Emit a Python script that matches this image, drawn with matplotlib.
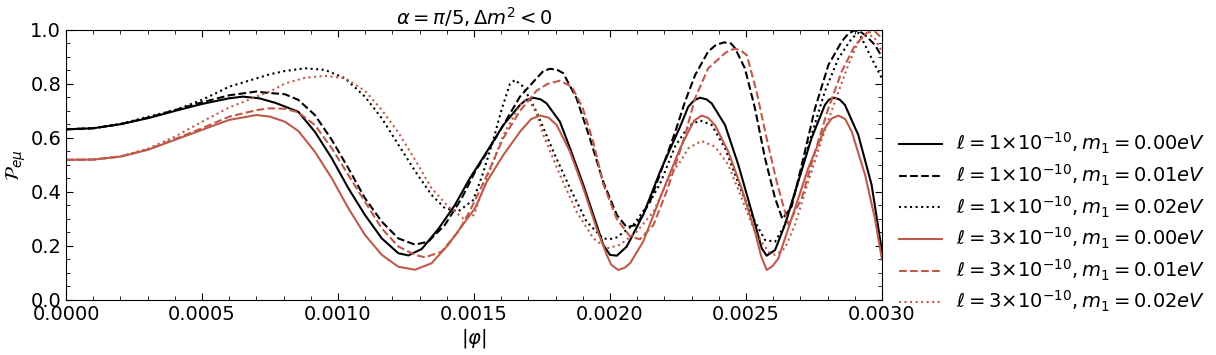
import matplotlib.pyplot as plt
import numpy as np
from matplotlib.ticker import MultipleLocator

# values, phi in units of 1e-3
phi_a = [0, .1, .2, .3, .4, .5, .6, .65, .71, .77, .854, .915, .977, 1.038, 1.099, 1.161, 1.222, 1.259,
         1.308, 1.369, 1.43, 1.485, 1.547, 1.608, 1.669, 1.69, 1.718, 1.745, 1.767, 1.816, 1.853, 1.902,
         1.951, 1.975, 2.0, 2.025, 2.061, 2.122, 2.184, 2.257, 2.288, 2.31, 2.331, 2.355, 2.374, 2.423,
         2.472, 2.521, 2.558, 2.576, 2.607, 2.643, 2.692, 2.741, 2.79, 2.805, 2.825, 2.845, 2.864, 2.913,
         2.962, 3.0]
p_a = [.632, .636, .651, .673, .700, .726, .747, .753, .747, .730, .697, .623, .525, .414, .315, .228, .173, .165,
       .189, .263, .352, .451, .549, .648, .722, .740, .749, .743, .728, .660, .562, .426,
       .278, .205, .167, .164, .197, .315, .475, .640, .716, .740, .749, .743, .728, .648,
       .500, .327, .191, .164, .185, .278, .438, .599, .722, .742, .749, .742, .722, .611,
       .426, .180]

phi_b = [0, .1, .2, .3, .4, .5, .6, .7, .732, .805, .854, .915, .977, 1.038, 1.099, 1.161, 1.222, 1.283,
         1.332, 1.393, 1.455, 1.504, 1.547, 1.608, 1.669, 1.73, 1.755, 1.779, 1.805, 1.828, 1.877, 1.926,
         1.975, 2.025, 2.061, 2.098, 2.147, 2.196, 2.239, 2.276, 2.313, 2.361, 2.39, 2.42, 2.445, 2.46,
         2.496, 2.533, 2.57, 2.607, 2.634, 2.668, 2.705, 2.754, 2.803, 2.852, 2.875, 2.897, 2.918, 2.938,
         2.974, 3.0]
p_b = [.632, .636, .651, .675, .703, .732, .758, .772, .768, .762, .741, .685, .593, .488, .377, .290, .228, .205,
       .216, .278, .377, .475, .545, .648, .753, .821, .848, .856, .853, .840, .747, .599,
       .438, .315, .270, .278, .364, .500, .620, .735, .833, .920, .945, .954, .950, .932,
       .858, .710, .525, .377, .300, .346, .500, .710, .870, .957, .985, .998, .995, .981,
       .945, .900]

phi_c = [0, .1, .2, .3, .4, .5, .6, .75, .805, .879, .952, 1.026, 1.099, 1.161, 1.222, 1.283, 1.344, 1.393,
         1.442, 1.497, 1.53, 1.571, 1.60, 1.632, 1.651, 1.681, 1.73, 1.792, 1.853, 1.914, 1.975, 2.0,
         2.025, 2.086, 2.147, 2.184, 2.24, 2.29, 2.331, 2.374, 2.423, 2.484, 2.533, 2.57, 2.607, 2.643,
         2.692, 2.741, 2.79, 2.84, 2.889, 2.915, 2.956, 3.0]
p_c = [.632, .636, .652, .678, .703, .741, .790, .836, .848, .858, .852, .821, .753, .673, .575, .478, .389, .340,
       .328, .370, .460, .593, .700, .800, .815, .790, .697, .549, .414, .290, .228, .225,
       .232, .278, .364, .430, .570, .645, .665, .648, .562, .401, .290, .222, .216, .278,
       .438, .611, .772, .895, .969, .990, .907, .820]

phi_d = [0, .1, .2, .3, .4, .5, .6, .7, .75, .805, .854, .915, .977, 1.038, 1.099, 1.161, 1.222, 1.283,
         1.344, 1.405, 1.467, 1.504, 1.547, 1.608, 1.669, 1.71, 1.743, 1.775, 1.804, 1.853, 1.902, 1.951,
         1.988, 2.005, 2.031, 2.055, 2.074, 2.122, 2.184, 2.257, 2.288, 2.31, 2.337, 2.36, 2.386, 2.435,
         2.484, 2.533, 2.555, 2.576, 2.597, 2.619, 2.668, 2.729, 2.79, 2.815, 2.84, 2.865, 2.889, 2.938,
         2.974, 3.0]
p_d = [.519, .520, .531, .556, .593, .630, .667, .685, .679, .660, .626, .549, .451, .340, .241, .167, .123, .112,
       .136, .204, .290, .340, .438, .537, .623, .670, .683, .675, .648, .549, .414, .265,
       .167, .130, .111, .120, .136, .216, .377, .560, .623, .665, .683, .675, .648, .549,
       .414, .253, .165, .111, .125, .154, .302, .488, .636, .672, .683, .670, .623, .463,
       .302, .150]

phi_e = [0, .1, .2, .3, .4, .5, .6, .7, .75, .805, .854, .915, .977, 1.038, 1.099, 1.161, 1.222, 1.283,
         1.32, 1.381, 1.442, 1.485, 1.547, 1.608, 1.669, 1.73, 1.77, 1.815, 1.86, 1.90, 1.94, 1.975,
         2.025, 2.074, 2.11, 2.16, 2.208, 2.257, 2.276, 2.313, 2.361, 2.423, 2.44, 2.46, 2.48, 2.503,
         2.539, 2.576, 2.613, 2.656, 2.705, 2.754, 2.803, 2.852, 2.901, 2.945, 2.974, 3.0]
p_e = [.519, .520, .531, .557, .596, .636, .679, .703, .710, .708, .695, .648, .562, .463, .364, .265, .198, .167,
       .158, .179, .253, .330, .460, .600, .700, .775, .800, .812, .790, .710, .580, .430,
       .300, .235, .225, .278, .401, .550, .611, .747, .858, .914, .925, .930, .925, .907,
       .772, .599, .438, .280, .377, .549, .710, .846, .944, .990, .994, .970]

phi_f = [0, .1, .2, .3, .4, .5, .6, .7, .75, .805, .879, .952, 1.026, 1.099, 1.161, 1.222, 1.283, 1.344,
         1.405, 1.461, 1.50, 1.547, 1.608, 1.669, 1.70, 1.73, 1.755, 1.816, 1.877, 1.939, 1.988, 2.037,
         2.098, 2.16, 2.221, 2.257, 2.288, 2.337, 2.386, 2.435, 2.484, 2.533, 2.582, 2.607, 2.643, 2.68,
         2.729, 2.778, 2.827, 2.876, 2.91, 2.94, 2.97, 3.0]
p_f = [.519, .520, .532, .560, .605, .660, .713, .753, .772, .802, .823, .830, .821, .775, .704, .620, .520, .414,
       .346, .302, .315, .450, .611, .722, .745, .690, .611, .463, .327, .228, .191, .204,
       .253, .327, .463, .510, .562, .589, .568, .500, .377, .253, .179, .167, .191, .278,
       .438, .593, .735, .870, .950, .985, .975, .920]

red = '#bf5a4a'
curves = [
    (phi_a, p_a, 'k', '-', r'$\ell=1{\times}10^{-10}, m_1=0.00eV$'),
    (phi_b, p_b, 'k', '--', r'$\ell=1{\times}10^{-10}, m_1=0.01eV$'),
    (phi_c, p_c, 'k', ':', r'$\ell=1{\times}10^{-10}, m_1=0.02eV$'),
    (phi_d, p_d, red, '-', r'$\ell=3{\times}10^{-10}, m_1=0.00eV$'),
    (phi_e, p_e, red, '--', r'$\ell=3{\times}10^{-10}, m_1=0.01eV$'),
    (phi_f, p_f, red, ':', r'$\ell=3{\times}10^{-10}, m_1=0.02eV$'),
]

fig = plt.figure(figsize=(12.16, 3.55), dpi=100)
ax = fig.add_axes([0.0543, 0.155, 0.671, 0.7606])

for x, y, c, ls, lab in curves:
    ax.plot(np.array(x) * 1e-3, y, color=c, ls=ls, lw=1.5, label=lab)

ax.set_xlim(0, 0.003)
ax.set_ylim(0, 1.0)
ax.xaxis.set_major_locator(MultipleLocator(0.0005))
ax.xaxis.set_minor_locator(MultipleLocator(0.0001))
ax.yaxis.set_major_locator(MultipleLocator(0.2))
ax.yaxis.set_minor_locator(MultipleLocator(0.05))
ax.xaxis.set_major_formatter(plt.FormatStrFormatter('%.4f'))
ax.yaxis.set_major_formatter(plt.FormatStrFormatter('%.1f'))
ax.tick_params(which='both', direction='in', top=True, right=True, labelsize=14)
ax.tick_params(which='major', length=5)
ax.tick_params(which='minor', length=3)

ax.set_xlabel(r'$|\varphi|$', fontsize=14, labelpad=2)
ax.set_ylabel(r'$\mathcal{P}_{e\mu}$', fontsize=14, labelpad=2)
ax.set_title(r'$\alpha=\pi/5, \Delta m^2<0$', fontsize=14, pad=4)

ax.legend(loc='upper left', bbox_to_anchor=(1.0, 0.69), frameon=False, fontsize=14,
          labelspacing=0.33, handlelength=2.2, handletextpad=0.7)

fig.savefig('out.png', dpi=100)
